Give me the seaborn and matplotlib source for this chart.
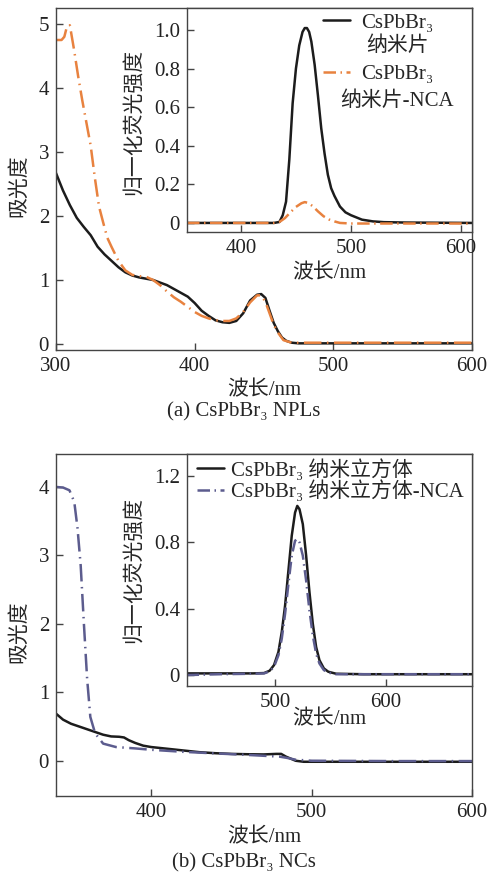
import numpy as np
import pandas as pd
import matplotlib
matplotlib.use("Agg")
import matplotlib.pyplot as plt
import seaborn as sns

# ---------------- data ----------------
# (a) absorbance, NPLs
npl_abs_x = [300, 305, 310, 315, 320, 325, 330, 335, 340, 345, 350, 355, 360, 365, 370, 375, 380, 385, 390,
             395, 400, 405, 410, 415, 420, 425, 430, 435, 440, 445, 448, 451, 454, 457, 460, 463, 466, 470,
             475, 480, 500, 550, 600]
npl_abs_y = [2.67, 2.40, 2.17, 1.97, 1.83, 1.70, 1.52, 1.40, 1.30, 1.20, 1.12, 1.07, 1.04, 1.02, 1.00, 0.96,
             0.92, 0.86, 0.80, 0.74, 0.64, 0.52, 0.44, 0.37, 0.34, 0.33, 0.36, 0.48, 0.68, 0.77, 0.78, 0.72,
             0.52, 0.33, 0.20, 0.10, 0.05, 0.02, 0.01, 0.01, 0.01, 0.01, 0.01]
nca_abs_x = [300, 304, 306, 308, 310, 313, 316, 319, 322, 325, 328, 331, 334, 337, 340, 345, 350, 355, 360,
             365, 370, 375, 380, 385, 390, 395, 400, 405, 410, 415, 420, 425, 430, 435, 440, 445, 448, 451,
             454, 457, 460, 464, 470, 480, 500, 550, 600]
nca_abs_y = [4.75, 4.75, 4.80, 4.97, 4.98, 4.60, 4.18, 3.80, 3.45, 3.10, 2.60, 2.15, 1.90, 1.66, 1.52, 1.30,
             1.15, 1.08, 1.06, 1.05, 1.00, 0.92, 0.82, 0.73, 0.66, 0.58, 0.50, 0.44, 0.40, 0.37, 0.36, 0.36,
             0.40, 0.50, 0.65, 0.76, 0.76, 0.66, 0.48, 0.30, 0.18, 0.06, 0.02, 0.02, 0.02, 0.02, 0.02]
# (a) inset PL
npl_pl_x = [351, 380, 400, 420, 430, 435, 438, 441, 444, 447, 450, 453, 456, 458, 460, 462, 464, 467, 470,
            473, 476, 479, 482, 485, 490, 495, 500, 510, 520, 530, 550, 610]
npl_pl_y = [0, 0, 0, 0, 0, 0.005, 0.04, 0.11, 0.33, 0.62, 0.80, 0.92, 0.99, 1.01, 1.01, 0.99, 0.94, 0.82,
            0.66, 0.49, 0.36, 0.25, 0.18, 0.14, 0.085, 0.055, 0.04, 0.017, 0.008, 0.004, 0.002, 0]
nca_pl_x = [351, 400, 430, 435, 440, 445, 450, 455, 458, 461, 465, 470, 475, 480, 485, 490, 500, 520, 610]
nca_pl_y = [0, 0, 0, 0.005, 0.025, 0.055, 0.083, 0.102, 0.108, 0.104, 0.088, 0.06, 0.035, 0.018, 0.008,
            0.0, -0.003, -0.003, -0.003]

# (b) absorbance, NCs
nc_abs_x = [340, 345, 350, 355, 360, 365, 370, 375, 380, 383, 386, 390, 395, 400, 410, 420, 430, 440, 450,
            460, 470, 478, 481, 484, 487, 490, 495, 500, 550, 600]
nc_abs_y = [0.70, 0.60, 0.54, 0.50, 0.46, 0.42, 0.38, 0.355, 0.35, 0.34, 0.30, 0.26, 0.22, 0.20, 0.175,
            0.15, 0.125, 0.11, 0.10, 0.095, 0.092, 0.10, 0.10, 0.06, 0.03, 0.0, -0.015, -0.015, -0.015, -0.015]
ncn_abs_x = [340, 345, 349, 352, 354, 356, 358, 360, 362, 365, 370, 378, 390, 400, 420, 440, 460, 480, 485,
             490, 500, 550, 600]
ncn_abs_y = [4.0, 3.99, 3.95, 3.78, 3.40, 2.85, 2.00, 1.20, 0.64, 0.40, 0.25, 0.20, 0.18, 0.16, 0.13, 0.107,
             0.085, 0.06, 0.04, 0.015, 0.0, -0.005, -0.005]
# (b) inset PL
nc_pl_x = [420, 450, 480, 490, 495, 499, 503, 506, 509, 512, 515, 518, 520, 522, 525, 528, 531, 534, 537,
           540, 544, 548, 555, 580, 620, 678]
nc_pl_y = [0.01, 0.01, 0.01, 0.012, 0.026, 0.06, 0.14, 0.26, 0.42, 0.63, 0.84, 0.98, 1.02, 1.00, 0.91,
           0.72, 0.50, 0.31, 0.17, 0.09, 0.04, 0.02, 0.008, 0.005, 0.005, 0.005]
ncn_pl_x = [420, 450, 480, 490, 495, 499, 503, 506, 509, 512, 515, 518, 520, 522, 525, 528, 531, 534, 537,
            540, 544, 548, 555, 580, 678]
ncn_pl_y = [0.0, 0.005, 0.008, 0.01, 0.022, 0.05, 0.12, 0.22, 0.37, 0.55, 0.72, 0.81, 0.82, 0.80, 0.72,
            0.57, 0.39, 0.24, 0.13, 0.07, 0.03, 0.015, 0.005, 0.005, 0.005]

lbl_npl = ["CsPbBr₃", "纳米片"]
lbl_npl_nca = ["CsPbBr₃", "纳米片-NCA"]
lbl_nc = "CsPbBr₃ 纳米立方体"
lbl_nc_nca = "CsPbBr₃ 纳米立方体-NCA"
xlabel = "波长/nm"
ylabel_abs = "吸光度"
ylabel_pl = "归一化荧光强度"
cap_a = "(a) CsPbBr₃ NPLs"
cap_b = "(b) CsPbBr₃ NCs"

# ---------------- style ----------------
sns.set_style("ticks")
plt.rcParams["font.family"] = ["Liberation Serif", "DejaVu Serif", "Noto Sans CJK SC"]
plt.rcParams["font.size"] = 15
plt.rcParams["axes.unicode_minus"] = False

FS = 15
BLACK = "#1c1c1c"
ORANGE = "#e8823f"
PURPLE = "#5c5c8e"
SPINE = "#444444"
LW = 1.8
DASH_MAIN = (0, (7, 2.2, 0.6, 2.2))
DASH_INSET = (0, (5, 1.8, 0.6, 1.8))

W, H = 488, 876
fig = plt.figure(figsize=(W / 100, H / 100), dpi=100)


def rect(l, t, r, b):
    return [l / W, 1 - b / H, (r - l) / W, (b - t) / H]


def style_ax(ax):
    for s in ax.spines.values():
        s.set_visible(True)
        s.set_color(SPINE)
        s.set_linewidth(1.0)
    ax.tick_params(direction="in", length=5, width=1.0, color=SPINE, labelsize=FS, pad=5,
                   top=False, right=False, labelcolor="#222222")


def draw(ax, x, y, color, ls, label):
    df = pd.DataFrame({"x": x, "y": y})
    sns.lineplot(data=df, x="x", y="y", ax=ax, color=color, lw=LW, linestyle=ls,
                 label=label, legend=False, estimator=None, sort=False)


# ---------- panel (a) ----------
axa = fig.add_axes(rect(56, 8, 472, 350))
draw(axa, npl_abs_x, npl_abs_y, BLACK, "-", lbl_npl[0])
draw(axa, nca_abs_x, nca_abs_y, ORANGE, DASH_MAIN, lbl_npl_nca[0])
axa.set_xlim(300, 600)
axa.set_ylim(-0.094, 5.25)
axa.set_xticks([300, 400, 500, 600])
axa.set_yticks([0, 1, 2, 3, 4, 5])
style_ax(axa)
axa.set_xlabel(xlabel, fontsize=FS)
axa.set_ylabel(ylabel_abs, fontsize=FS)
axa.xaxis.set_label_coords(0.5, -41 / 342)
axa.xaxis.label.set_va("center")
axa.yaxis.set_label_coords(-36 / 416, 0.48)
axa.yaxis.label.set_va("center")

axai = fig.add_axes(rect(187, 8, 472, 232))
draw(axai, npl_pl_x, npl_pl_y, BLACK, "-", lbl_npl[0])
draw(axai, nca_pl_x, nca_pl_y, ORANGE, DASH_INSET, lbl_npl_nca[0])
axai.set_xlim(351, 610)
axai.set_ylim(-0.047, 1.114)
axai.set_xticks([400, 500, 600])
axai.set_yticks([0, 0.2, 0.4, 0.6, 0.8, 1.0])
axai.set_yticklabels(["0", "0.2", "0.4", "0.6", "0.8", "1.0"])
style_ax(axai)
axai.set_xlabel(xlabel, fontsize=FS)
axai.set_ylabel(ylabel_pl, fontsize=FS)
axai.xaxis.set_label_coords(0.5, -42 / 224)
axai.xaxis.label.set_va("center")
axai.yaxis.set_label_coords(-52 / 285, 0.49)
axai.yaxis.label.set_va("center")
axai.legend(loc="upper left", bbox_to_anchor=((323 - 187) / 285, (232 - 13) / 224),
            frameon=False, fontsize=FS, handlelength=1.3, handletextpad=0.55,
            labelspacing=1.55, borderaxespad=0, borderpad=0)
axai.text((397 - 187) / 285, (232 - 46) / 224, lbl_npl[1], transform=axai.transAxes,
          ha="center", va="center", fontsize=FS)
axai.text((397 - 187) / 285, (232 - 101) / 224, lbl_npl_nca[1], transform=axai.transAxes,
          ha="center", va="center", fontsize=FS)

fig.text(0.5, 1 - 412 / H, cap_a, ha="center", va="center", fontsize=FS)

# ---------- panel (b) ----------
axb = fig.add_axes(rect(56, 454, 472, 796))
draw(axb, nc_abs_x, nc_abs_y, BLACK, "-", lbl_nc)
draw(axb, ncn_abs_x, ncn_abs_y, PURPLE, DASH_MAIN, lbl_nc_nca)
axb.set_xlim(340.6, 600)
axb.set_ylim(-0.515, 4.48)
axb.set_xticks([400, 500, 600])
axb.set_yticks([0, 1, 2, 3, 4])
style_ax(axb)
axb.set_xlabel(xlabel, fontsize=FS)
axb.set_ylabel(ylabel_abs, fontsize=FS)
axb.xaxis.set_label_coords(0.5, -42 / 342)
axb.xaxis.label.set_va("center")
axb.yaxis.set_label_coords(-36 / 416, 0.48)
axb.yaxis.label.set_va("center")

axbi = fig.add_axes(rect(187, 454, 472, 686))
draw(axbi, nc_pl_x, nc_pl_y, BLACK, "-", lbl_nc)
draw(axbi, ncn_pl_x, ncn_pl_y, PURPLE, DASH_INSET, lbl_nc_nca)
axbi.set_xlim(420.4, 677.8)
axbi.set_ylim(-0.066, 1.333)
axbi.set_xticks([500, 600])
axbi.set_yticks([0, 0.4, 0.8, 1.2])
axbi.set_yticklabels(["0", "0.4", "0.8", "1.2"])
style_ax(axbi)
axbi.set_xlabel(xlabel, fontsize=FS)
axbi.set_ylabel(ylabel_pl, fontsize=FS)
axbi.xaxis.set_label_coords(0.5, -34 / 232)
axbi.xaxis.label.set_va("center")
axbi.yaxis.set_label_coords(-52 / 285, 0.5)
axbi.yaxis.label.set_va("center")
axbi.legend(loc="upper left", bbox_to_anchor=((197 - 187) / 285, (686 - 459) / 232),
            frameon=False, fontsize=FS, handlelength=1.3, handletextpad=0.35,
            labelspacing=0.0, borderaxespad=0, borderpad=0)

fig.text(0.5, 1 - 863 / H, cap_b, ha="center", va="center", fontsize=FS)

fig.savefig("out.png", dpi=100)
